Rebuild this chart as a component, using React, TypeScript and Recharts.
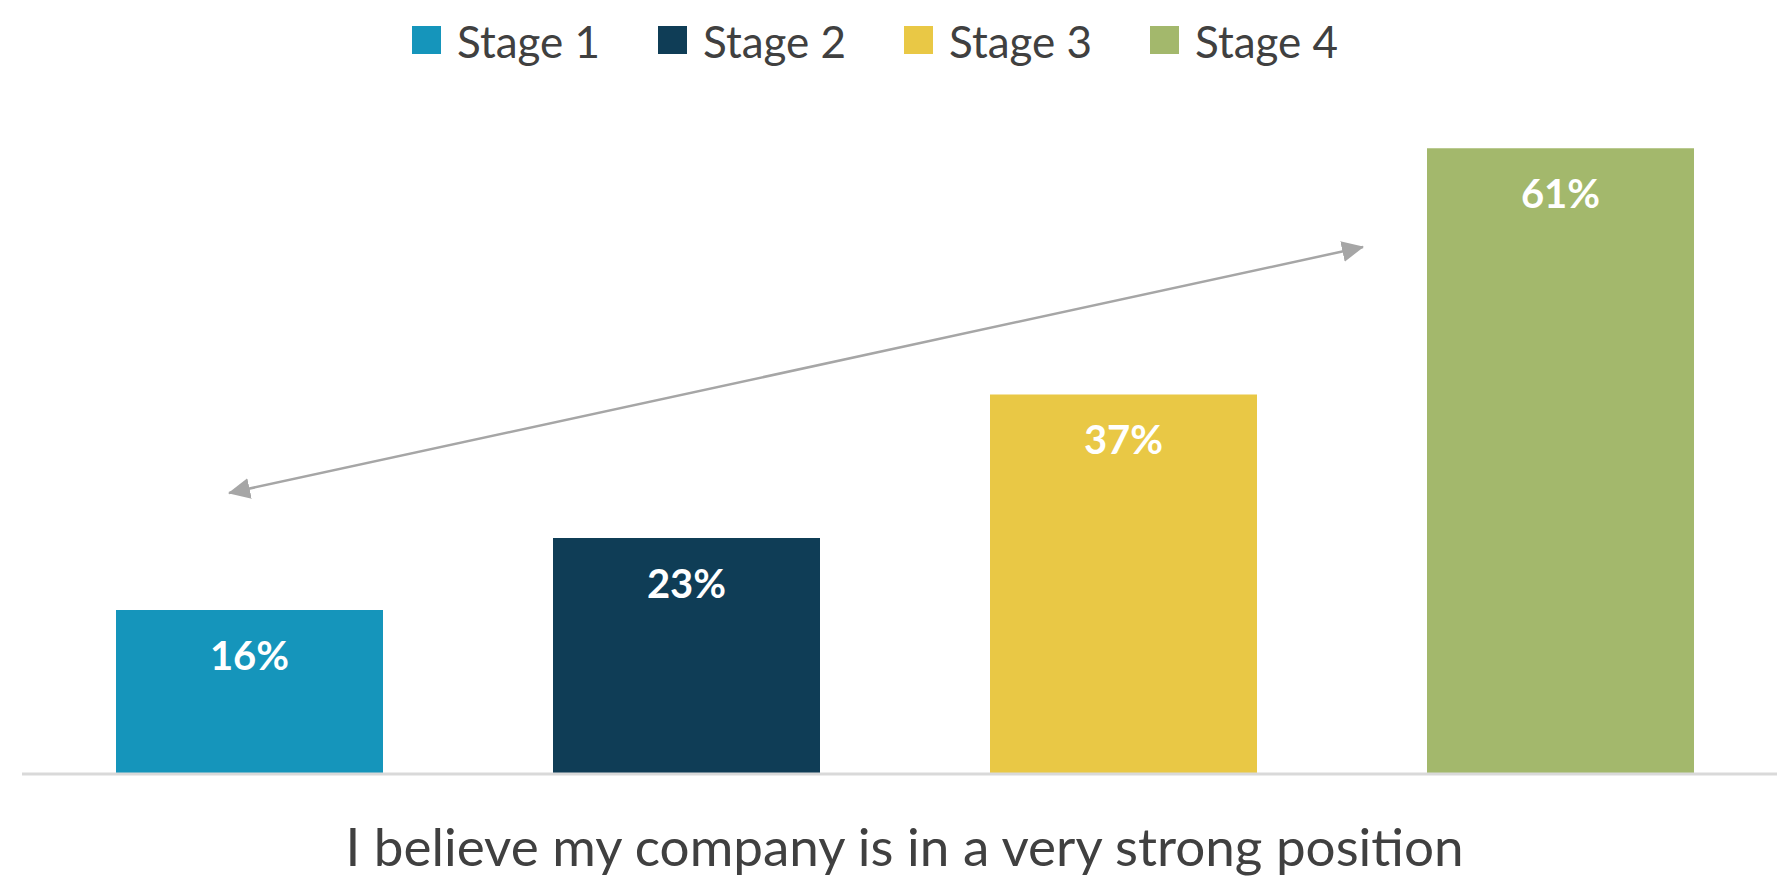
import React from 'react';
import { BarChart, Bar, XAxis, YAxis, Legend, LabelList } from 'recharts';

const categories = ['I believe my company is in a very strong position'];
const stageNames = ['Stage 1', 'Stage 2', 'Stage 3', 'Stage 4'];
const stageValues = [16, 23, 37, 61];
const stageColors = ['#1595bb', '#0f3d56', '#e9c845', '#a3b86c'];

const keys = stageNames.map((_, i) => `s${i + 1}`);

const data = categories.map((name) => {
  const row: Record<string, string | number> = { name };
  keys.forEach((k, i) => {
    row[k] = stageValues[i];
  });
  return row;
});

const TEXT = '#404040';
const FONT = 'Lato, "Open Sans", sans-serif';

// legend laid out to sit where the original one does (wrapper already starts at margin.left)
const renderLegend = () => (
  <div style={{ height: 56, display: 'flex', paddingLeft: 390, boxSizing: 'border-box' }}>
    {stageNames.map((n, i) => (
      <div key={n} style={{ width: 246, display: 'flex', alignItems: 'flex-end', height: 54 }}>
        <div style={{ width: 29, height: 28, background: stageColors[i], marginRight: 16 }} />
        <span style={{ fontSize: 44, lineHeight: '44px', color: TEXT, marginBottom: -9 }}>{n}</span>
      </div>
    ))}
  </div>
);

const CategoryTick = (props: any) => {
  const { x, y, payload } = props;
  return (
    <text x={x} y={y + 92} textAnchor="middle" fill={TEXT} fontSize={53} fontFamily={FONT}>
      {payload.value}
    </text>
  );
};

const ValueLabel = (props: any) => {
  const { x, y, width, value } = props;
  return (
    <text
      x={x + width / 2}
      y={y + 45}
      textAnchor="middle"
      dominantBaseline="central"
      fill="#ffffff"
      fontSize={40}
      fontWeight={700}
      fontFamily={FONT}
    >
      {value}%
    </text>
  );
};

export default function App() {
  return (
    <div style={{ position: 'absolute', left: 0, top: 0, width: 1777, height: 876, fontFamily: FONT, background: '#fff' }}>
      <BarChart
        width={1777}
        height={876}
        data={data}
        margin={{ top: 0, right: 0, left: 22, bottom: 22 }}
        barSize={267}
        barGap={170}
      >
        <XAxis
          dataKey="name"
          height={80}
          padding={{ left: 10, right: 0 }}
          axisLine={{ stroke: '#d9d9d9', strokeWidth: 3 }}
          tickLine={false}
          tickSize={0}
          tickMargin={0}
          tick={<CategoryTick />}
          interval={0}
        />
        <YAxis hide domain={[0, 70]} />
        <Legend verticalAlign="top" align="left" content={renderLegend} />
        {keys.map((k, i) => (
          <Bar key={k} dataKey={k} name={stageNames[i]} fill={stageColors[i]} isAnimationActive={false}>
            <LabelList dataKey={k} content={<ValueLabel />} />
          </Bar>
        ))}
      </BarChart>
      {/* trend arrow annotation */}
      <svg width={1777} height={876} style={{ position: 'absolute', left: 0, top: 0, pointerEvents: 'none' }}>
        <defs>
          <marker id="arrowHead" markerUnits="userSpaceOnUse" markerWidth={22} markerHeight={21} refX={21} refY={10.5} orient="auto-start-reverse">
            <path d="M0,0 L22,10.5 L0,21 z" fill="#a6a6a6" />
          </marker>
        </defs>
        <line x1={229} y1={493} x2={1363} y2={247} stroke="#a6a6a6" strokeWidth={2.5} markerStart="url(#arrowHead)" markerEnd="url(#arrowHead)" />
      </svg>
    </div>
  );
}
